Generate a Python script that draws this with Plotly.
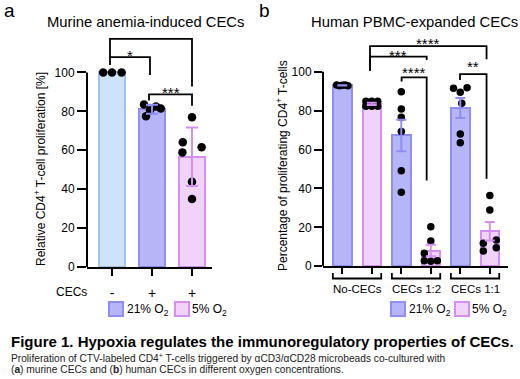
import numpy as np
import plotly.graph_objects as go

W, H = 520, 379
FONT = "Liberation Sans, Arial, sans-serif"

# ---------------- data ----------------
# Panel a: murine anemia-induced CECs (relative proliferation, %)
a_tick_labels = ["-", "+", "+"]
a_ctrl = [100.0, 100.0, 100.0]                       # no CECs, 21% O2
a_21 = [83.5, 82.5, 81.5, 80.5, 77.5]                # CECs, 21% O2
a_5 = [76.9, 64.1, 61.5, 58.9, 43.8, 34.9]           # CECs, 5% O2

# Panel b: human PBMC-expanded CECs (% proliferating CD4+ T-cells)
b_groups = ["No-CECs", "CECs 1:2", "CECs 1:1"]
b_21_nocec = [93.2, 92.8, 93.0, 93.2, 92.8]
b_5_nocec = [84.8, 84.8, 84.8, 82.2, 82.2, 82.2]
b_21_12 = [89.7, 80.8, 76.6, 69.2, 49.1, 38.0]
b_5_12 = [20.3, 13.0, 6.6, 2.8, 2.6, 2.8]
b_21_11 = [91.5, 91.8, 89.4, 83.8, 68.0, 63.5]
b_5_11 = [36.3, 28.9, 13.5, 11.8, 9.5, 7.8]

# significance labels
a_sig = ["*", "***", "****"]
b_sig = ["****", "***", "****", "**"]

# ---------------- styles / layout constants ----------------
C_CTRL_FILL, C_CTRL_LINE = "#cfe2fb", "#9ec4f2"
C21_FILL, C21_LINE = "#b5b5f7", "#8e8ef5"
C5_FILL, C5_LINE = "#efd3f9", "#d58ef3"

a_series = [a_ctrl, a_21, a_5]
a_fill = [C_CTRL_FILL, C21_FILL, C5_FILL]
a_line = [C_CTRL_LINE, C21_LINE, C5_LINE]
a_jit = [[-0.22, 0, 0.24], [-0.2, 0.1, 0.22, -0.05, -0.15], [0, -0.23, 0.24, -0.24, 0, 0]]

b_series = [b_21_nocec, b_5_nocec, b_21_12, b_5_12, b_21_11, b_5_11]
b_fill = [C21_FILL, C5_FILL] * 3
b_line = [C21_LINE, C5_LINE] * 3
b_jit = [[-0.19, -0.095, 0, 0.095, 0.19], [-0.2, 0, 0.2, -0.2, 0, 0.2], [0] * 6,
         [0, 0, -0.22, -0.22, 0, 0.22], [-0.23, 0.23, 0, 0.05, 0, 0], [0, 0, 0.22, -0.22, 0.22, -0.22]]


def py(px):
    return 1 - px / H


def px_x(px):
    return px / W


fig = go.Figure()

# ---------- Panel a ----------
a_pos = list(range(len(a_series)))
a_mean = [float(np.mean(v)) for v in a_series]
a_sd = [float(np.std(v, ddof=1)) for v in a_series]
fig.add_trace(go.Bar(x=a_pos, y=a_mean, width=0.64,
                     marker=dict(color=a_fill, line=dict(color=a_line, width=2)),
                     xaxis="x", yaxis="y", showlegend=False, hoverinfo="skip"))
for i, vals in enumerate(a_series):
    fig.add_trace(go.Scatter(x=[a_pos[i] + j for j in a_jit[i]], y=vals, mode="markers",
                             marker=dict(color="black", size=8.5),
                             xaxis="x", yaxis="y", showlegend=False, hoverinfo="skip"))
for i in range(len(a_series)):
    if a_sd[i] > 0:
        fig.add_trace(go.Scatter(x=[a_pos[i]], y=[a_mean[i]], mode="markers",
                                 marker=dict(size=1, color="rgba(0,0,0,0)"),
                                 error_y=dict(type="data", array=[a_sd[i]], color=a_line[i],
                                              thickness=2, width=6),
                                 xaxis="x", yaxis="y", showlegend=False, hoverinfo="skip"))

# ---------- Panel b ----------
b_pos = list(range(len(b_series)))
b_mean = [float(np.mean(v)) for v in b_series]
b_sem = [float(np.std(v, ddof=1) / np.sqrt(len(v))) for v in b_series]
fig.add_trace(go.Bar(x=b_pos, y=b_mean, width=0.63,
                     marker=dict(color=b_fill, line=dict(color=b_line, width=2)),
                     xaxis="x2", yaxis="y2", showlegend=False, hoverinfo="skip"))
for i, vals in enumerate(b_series):
    fig.add_trace(go.Scatter(x=[b_pos[i] + j for j in b_jit[i]], y=vals, mode="markers",
                             marker=dict(color="black", size=7.5),
                             xaxis="x2", yaxis="y2", showlegend=False, hoverinfo="skip"))
for i in range(len(b_series)):
    fig.add_trace(go.Scatter(x=[b_pos[i]], y=[b_mean[i]], mode="markers",
                             marker=dict(size=1, color="rgba(0,0,0,0)"),
                             error_y=dict(type="data", array=[b_sem[i]], color=b_line[i],
                                          thickness=2, width=5),
                             xaxis="x2", yaxis="y2", showlegend=False, hoverinfo="skip"))

shapes = []
annotations = []


def ann(text, x, y, xref="paper", yref="paper", size=12, xanchor="center", yanchor="middle",
        **kw):
    d = dict(xref=xref, yref=yref, x=x, y=y, text=text, showarrow=False,
             xanchor=xanchor, yanchor=yanchor,
             font=dict(size=size, color=kw.pop("color", "black"), family=FONT))
    d.update(kw)
    annotations.append(d)


# y axis lines (only up to 100)
for xr, yr in [("x domain", "y"), ("x2 domain", "y2")]:
    shapes.append(dict(type="line", xref=xr, yref=yr, x0=0, x1=0, y0=0, y1=100,
                       line=dict(color="black", width=2)))

# significance brackets: (x0, x1, y_horizontal, y_left_end, y_right_end, text_y)
a_br = [(-0.05, 0.95, 107.8, 103.8, 98.7, 110.6),
        (0.925, 2.0, 88.7, 85.5, 82.9, 91.6),
        (-0.05, 2.0, 117.2, 107.8, 92.7, 122.2)]
b_br = [(0.94, 4.89, 113.2, 100.5, 106.4, 116.6),
        (0.94, 2.86, 107.7, 100.5, 106.0, 110.5),
        (2.01, 2.86, 97.1, 94.9, 44.0, 101.7),
        (3.99, 4.89, 98.8, 95.7, 45.0, 104.6)]
for (xr, yr, brs, labs) in [("x", "y", a_br, a_sig), ("x2", "y2", b_br, b_sig)]:
    for (x0, x1, yh, yl, yr_, ty), lab in zip(brs, labs):
        shapes.append(dict(type="path", xref=xr, yref=yr,
                           path=f"M {x0} {yl} L {x0} {yh} L {x1} {yh} L {x1} {yr_}",
                           line=dict(color="black", width=1.8)))
        ann(lab, (x0 + x1) / 2, ty, xref=xr, yref=yr, size=15, yshift=-4)

# panel b group brackets under the axis
for g, name in enumerate(b_groups):
    c = 2 * g + 0.5
    shapes.append(dict(type="path", xref="x2", yref="paper",
                       path=f"M {c-0.82} {py(273)} L {c-0.82} {py(278.5)} L {c+0.82} {py(278.5)} L {c+0.82} {py(273)}",
                       line=dict(color="black", width=1.8)))
    ann(name, c, py(288.5), xref="x2", size=11.5)

# CECs row label (panel a)
ann("CECs", px_x(89), py(292), xanchor="right", size=12)


# legends
def legend(x_sq1, x_t1, x_sq2, x_t2):
    for xs, xt, fc, lc, lab in [(x_sq1, x_t1, C21_FILL, C21_LINE, "21% O<sub>2</sub>"),
                                (x_sq2, x_t2, C5_FILL, C5_LINE, "5% O<sub>2</sub>")]:
        shapes.append(dict(type="rect", xref="paper", yref="paper",
                           x0=px_x(xs), x1=px_x(xs + 14), y0=py(316), y1=py(302),
                           fillcolor=fc, line=dict(color=lc, width=2)))
        ann(lab, px_x(xt), py(309.5), xanchor="left", size=12)


legend(109, 125, 175, 190)
legend(391, 407, 455, 470)

# titles and texts
ann("Murine anemia-induced CECs", px_x(145), py(22), size=14.8)
ann("Human PBMC-expanded CECs", px_x(414), py(22), size=14.8)
ann("a", px_x(2), py(10), xanchor="left", size=19)
ann("b", px_x(257), py(10), xanchor="left", size=19)
ann("Relative CD4<sup>+</sup> T-cell proliferation [%]", px_x(40), py(169), size=12, textangle=-90)
ann("Percentage of proliferating CD4<sup>+</sup> T-cells", px_x(282), py(166), size=12,
    textangle=-90)
ann("<b>Figure 1. Hypoxia regulates the immunoregulatory properties of CECs.</b>",
    px_x(9), py(341.5), xanchor="left", size=15)
ann("Proliferation of CTV-labeled CD4<sup>+</sup> T-cells triggered by αCD3/αCD28 microbeads co-cultured with",
    px_x(9), py(357.5), xanchor="left", size=10.2, color="#222222")
ann("(<b>a</b>) murine CECs and (<b>b</b>) human CECs in different oxygen concentrations.",
    px_x(9), py(369), xanchor="left", size=10.2, color="#222222")

A_Y0, A_TOP, A_PPU = 267, 30, 1.946
B_Y0, B_TOP, B_PPU = 266.2, 30, 1.945

axis_common = dict(showgrid=False, zeroline=False, ticks="outside", tickcolor="black",
                   automargin=False)
tf12 = dict(size=12, color="black", family=FONT)
fig.update_layout(
    width=W, height=H, margin=dict(l=0, r=0, t=0, b=0, pad=0, autoexpand=False),
    paper_bgcolor="white", plot_bgcolor="white",
    xaxis=dict(domain=[px_x(87), px_x(212)], range=[-0.625, 2.5], anchor="y",
               showline=True, linecolor="black", linewidth=2, ticklen=7, tickwidth=2,
               tickvals=a_pos, ticktext=a_tick_labels, ticklabelstandoff=5,
               tickfont=dict(size=14, color="black", family=FONT), **axis_common),
    yaxis=dict(domain=[py(A_Y0), py(A_TOP)], range=[0, (A_Y0 - A_TOP) / A_PPU], anchor="x",
               showline=False, ticklen=9, tickwidth=2, tickvals=[0, 20, 40, 60, 80, 100],
               tickfont=tf12, **axis_common),
    xaxis2=dict(domain=[px_x(323), px_x(508)], range=[-0.654, 5.617], anchor="y2",
                showline=True, linecolor="black", linewidth=2, ticklen=6, tickwidth=2,
                tickvals=b_pos, showticklabels=False, **axis_common),
    yaxis2=dict(domain=[py(B_Y0), py(B_TOP)], range=[0, (B_Y0 - B_TOP) / B_PPU], anchor="x2",
                showline=False, ticklen=8, tickwidth=2, tickvals=[0, 20, 40, 60, 80, 100],
                tickfont=tf12, **axis_common),
    shapes=shapes, annotations=annotations,
    font=dict(family=FONT, color="black"),
    bargap=0,
)

fig.write_html("out.html", post_script="document.body.style.margin='0';",
               config={"displayModeBar": False})
